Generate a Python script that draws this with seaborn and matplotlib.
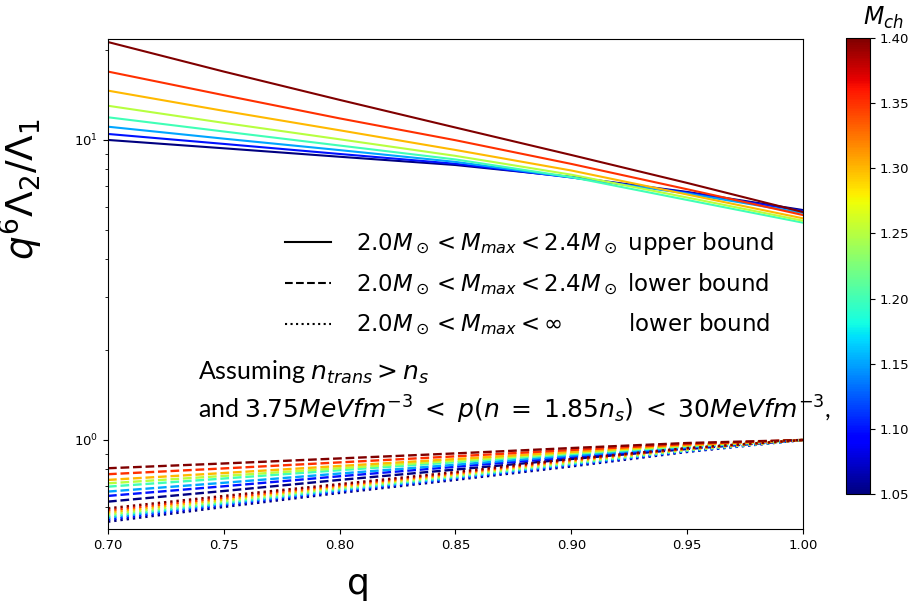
import numpy as np
import pandas as pd
import matplotlib
matplotlib.use("Agg")
import matplotlib.pyplot as plt
import seaborn as sns
from matplotlib.lines import Line2D
from matplotlib.ticker import FormatStrFormatter, NullFormatter

# ---------------- data ----------------
q = [0.70, 0.75, 0.80, 0.85, 0.90, 0.95, 1.00]
mch = [1.05, 1.10, 1.15, 1.20, 1.25, 1.30, 1.35, 1.40]

# upper bound (2.0 < Mmax < 2.4), one list per M_ch
upper_105 = [10.0, 9.38, 8.79, 8.25, 7.53, 6.71, 5.84]
upper_110 = [10.47, 9.70, 8.98, 8.33, 7.50, 6.68, 5.80]
upper_115 = [11.07, 10.1, 9.25, 8.45, 7.50, 6.63, 5.71]
upper_120 = [11.9, 10.67, 9.58, 8.61, 7.52, 6.31, 5.30]
upper_125 = [13.0, 11.4, 10.05, 8.85, 7.66, 6.43, 5.38]
upper_130 = [14.6, 12.5, 10.77, 9.26, 7.91, 6.58, 5.48]
upper_135 = [16.9, 14.1, 11.8, 9.98, 8.32, 6.85, 5.62]
upper_140 = [21.2, 16.9, 13.6, 11.0, 8.91, 7.19, 5.75]

# lower bound (2.0 < Mmax < 2.4)
lower_105 = [0.623, 0.676, 0.736, 0.797, 0.864, 0.933, 1.0]
lower_110 = [0.651, 0.701, 0.757, 0.814, 0.877, 0.940, 1.0]
lower_115 = [0.673, 0.720, 0.773, 0.827, 0.887, 0.946, 1.0]
lower_120 = [0.699, 0.744, 0.793, 0.843, 0.898, 0.953, 1.0]
lower_125 = [0.717, 0.759, 0.805, 0.853, 0.905, 0.957, 1.0]
lower_130 = [0.736, 0.776, 0.819, 0.864, 0.913, 0.962, 1.0]
lower_135 = [0.769, 0.804, 0.842, 0.882, 0.926, 0.969, 1.0]
lower_140 = [0.805, 0.835, 0.868, 0.902, 0.940, 0.977, 1.0]

# lower bound (2.0 < Mmax < inf)
inf_105 = [0.534, 0.598, 0.666, 0.736, 0.816, 0.912, 1.0]
inf_110 = [0.542, 0.606, 0.673, 0.743, 0.823, 0.916, 1.0]
inf_115 = [0.550, 0.612, 0.679, 0.748, 0.829, 0.920, 1.0]
inf_120 = [0.557, 0.618, 0.685, 0.754, 0.835, 0.923, 1.0]
inf_125 = [0.565, 0.626, 0.692, 0.761, 0.842, 0.927, 1.0]
inf_130 = [0.574, 0.634, 0.699, 0.768, 0.850, 0.932, 1.0]
inf_135 = [0.583, 0.642, 0.706, 0.775, 0.857, 0.936, 1.0]
inf_140 = [0.592, 0.651, 0.713, 0.782, 0.864, 0.940, 1.0]

upper = [upper_105, upper_110, upper_115, upper_120, upper_125, upper_130, upper_135, upper_140]
lower = [lower_105, lower_110, lower_115, lower_120, lower_125, lower_130, lower_135, lower_140]
linf = [inf_105, inf_110, inf_115, inf_120, inf_125, inf_130, inf_135, inf_140]

xticks = [0.70, 0.75, 0.80, 0.85, 0.90, 0.95, 1.00]
cbar_ticks = [1.05, 1.10, 1.15, 1.20, 1.25, 1.30, 1.35, 1.40]


def long_df(series):
    rows = []
    for m, vals in zip(mch, series):
        for qq, v in zip(q, vals):
            rows.append((qq, v, m))
    return pd.DataFrame(rows, columns=["q", "val", "Mch"])


# ---------------- figure ----------------
fig = plt.figure(figsize=(9.16, 6.01), dpi=100)
ax = fig.add_axes([0.1179, 0.1198, 0.7587, 0.8153])
cax = fig.add_axes([0.9236, 0.178, 0.0262, 0.7587])

jet = matplotlib.colormaps["jet"]
norm = matplotlib.colors.Normalize(vmin=1.05, vmax=1.40)

sns.lineplot(data=long_df(upper), x="q", y="val", hue="Mch", palette=jet,
             hue_norm=norm, legend=False, linewidth=1.5, ax=ax, estimator=None)
sns.lineplot(data=long_df(lower), x="q", y="val", hue="Mch", palette=jet,
             hue_norm=norm, legend=False, linewidth=1.7, linestyle="--", ax=ax, estimator=None)
sns.lineplot(data=long_df(linf), x="q", y="val", hue="Mch", palette=jet,
             hue_norm=norm, legend=False, linewidth=1.7, linestyle=":", ax=ax, estimator=None)

ax.set_yscale("log")
ax.set_xlim(0.70, 1.00)
ax.set_ylim(0.505, 21.7)
ax.set_xticks(xticks)
ax.xaxis.set_major_formatter(FormatStrFormatter("%.2f"))
ax.yaxis.set_minor_formatter(NullFormatter())
ax.tick_params(labelsize=9.5)

ax.set_xlabel("q", fontsize=26)
ax.xaxis.set_label_coords(0.36, -0.078)
ax.set_ylabel(r"$q^6\Lambda_2/\Lambda_1$", fontsize=27)
ax.yaxis.set_label_coords(-0.09, 0.694)

handles = [Line2D([0], [0], color="k", lw=1.5, ls="-"),
           Line2D([0], [0], color="k", lw=1.5, ls="--"),
           Line2D([0], [0], color="k", lw=1.5, ls=":")]
labels = [r"$2.0M_\odot < M_{max} < 2.4M_\odot$ upper bound",
          r"$2.0M_\odot < M_{max} < 2.4M_\odot$ lower bound",
          r"$2.0M_\odot < M_{max} < \infty$" + "         lower bound"]
ax.legend(handles, labels, loc="center left", bbox_to_anchor=(0.255, 0.5),
          frameon=False, fontsize=16.5, handlelength=2.0, handletextpad=1.1,
          labelspacing=0.62, borderpad=0, borderaxespad=0)

ax.text(0.13, 0.32, r"Assuming $n_{trans} > n_s$", transform=ax.transAxes,
        fontsize=18, va="center", ha="left", zorder=2, clip_on=False,
        family="Lato", math_fontfamily="dejavusans")
ax.text(0.13, 0.243,
        r"and $3.75MeVfm^{-3}\;<\;p(n\;=\;1.85n_s)\;<\;30MeVfm^{-3}$,",
        transform=ax.transAxes, fontsize=18, va="center", ha="left", zorder=2,
        clip_on=False, family="Lato", math_fontfamily="dejavusans")

sm = matplotlib.cm.ScalarMappable(norm=norm, cmap=jet)
sm.set_array([])
cb = fig.colorbar(sm, cax=cax, ticks=cbar_ticks)
cb.ax.yaxis.set_major_formatter(FormatStrFormatter("%.2f"))
cb.ax.tick_params(labelsize=9.5)
fig.text(0.964, 0.97, r"$M_{ch}$", fontsize=17, ha="center", va="center")

fig.savefig("out.png", dpi=100)
